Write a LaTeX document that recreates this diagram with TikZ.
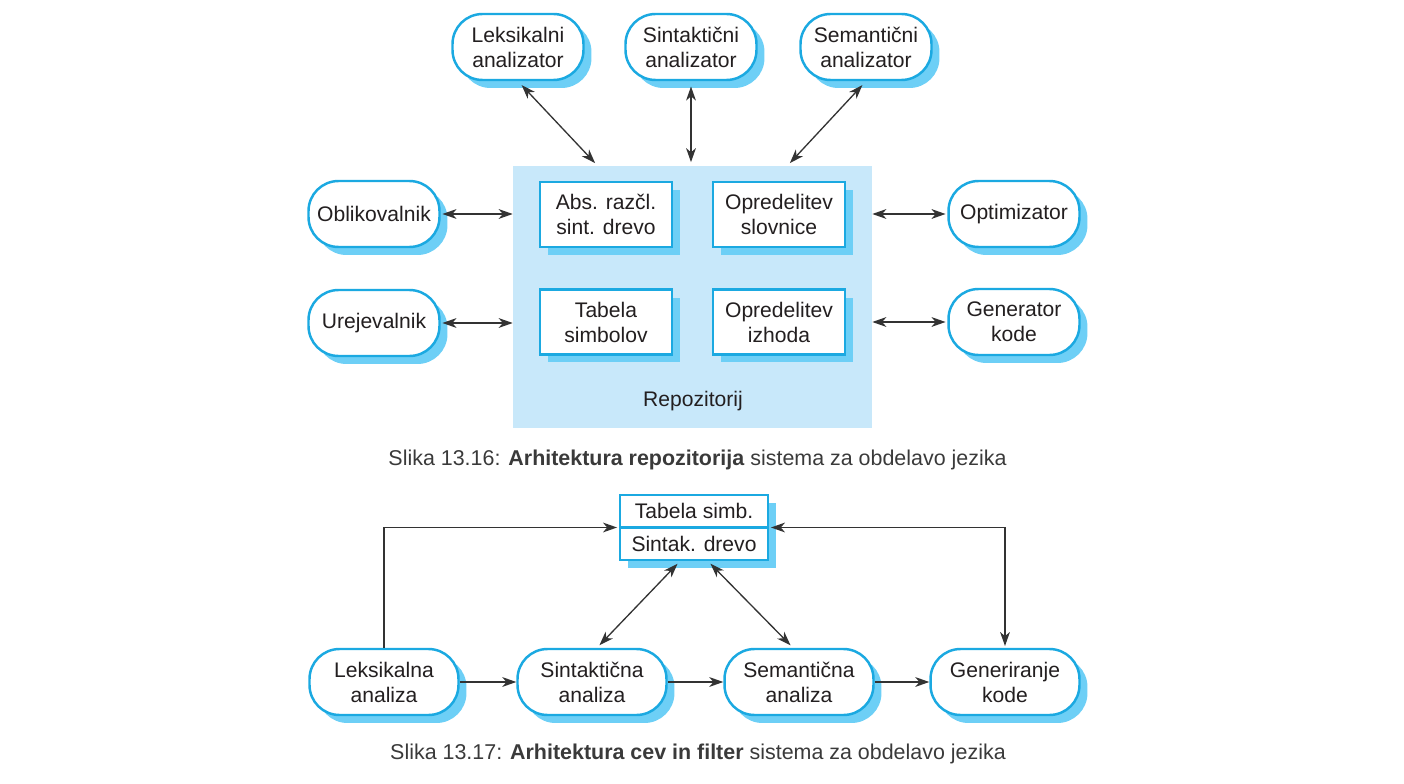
\documentclass[tikz,border=0pt]{standalone}
\usepackage{fontspec}
\setmainfont{Liberation Sans}
\usetikzlibrary{shadows,arrows.meta}
\definecolor{rimblue}{HTML}{1BA9E1}
\definecolor{shadeblue}{HTML}{6DCFF6}
\definecolor{repofill}{HTML}{C8E8FA}
\definecolor{linegray}{HTML}{333333}
\definecolor{textblack}{HTML}{231F20}
\definecolor{capgray}{HTML}{3A3A3A}
\tikzset{
  blueshade/.style={drop shadow={shadow xshift=0.16cm, shadow yshift=-0.16cm, fill=shadeblue, opacity=1}},
  tool/.style={draw=rimblue, line width=1.4pt, fill=white, rounded corners=0.6cm,
    minimum width=2.62cm, minimum height=1.32cm, align=center, text=textblack,
    font=\fontsize{12}{14.2}\selectfont, blueshade},
  phase/.style={tool, minimum width=2.98cm},
  part/.style={draw=rimblue, line width=1.4pt, fill=white, minimum width=2.64cm,
    minimum height=1.3cm, align=center, text=textblack,
    font=\fontsize{12}{14.2}\selectfont, blueshade},
  caption/.style={text=capgray, font=\fontsize{12.2}{14}\selectfont},
  link/.style={draw=linegray, line width=0.75pt},
  tip/.tip={Stealth[length=8pt, width=5.6pt, inset=2.4pt]}
}
\begin{document}
\begin{tikzpicture}[x=0.02cm, y=-0.02cm, >=tip]
\useasboundingbox (0,0) rectangle (1404,784);

\node [fill=repofill, minimum width=7.18cm, minimum height=5.24cm] (repo) at (692.5,297) {};
\node [text=textblack, font=\fontsize{12}{14.2}\selectfont] (repolabel) at (693,401) {Repozitorij};

\node [tool] (leks) at (518,47) {Leksikalni\\analizator};
\node [tool] (sint) at (691,47) {Sintaktični\\analizator};
\node [tool] (sem) at (866,47) {Semantični\\analizator};
\node [tool] (obl) at (374,214) {Oblikovalnik};
\node [tool] (urej) at (374,323) {Urejevalnik};
\node [tool] (opt) at (1014,214) {Optimizator};
\node [tool] (gen) at (1014,322) {Generator\\kode};

\node [part] (ast) at (606,214.5) {Abs. razčl.\\sint. drevo};
\node [part] (slov) at (779,214.5) {Opredelitev\\slovnice};
\node [part] (tab) at (606,322) {Tabela\\simbolov};
\node [part] (izh) at (779,322) {Opredelitev\\izhoda};

\draw [link, <->, shorten <=3pt, shorten >=2pt] (leks.south) to ([xshift=-1.9cm]repo.north);
\draw [link, <->, shorten <=3pt, shorten >=2pt] (sint.south) to (sint.south |- repo.north);
\draw [link, <->, shorten <=3pt, shorten >=2pt] (sem.south) to ([xshift=1.9cm]repo.north);
\draw [link, <->, shorten <=1pt] (obl.east) to (obl.east -| repo.west);
\draw [link, <->, shorten <=1pt] (urej.east) to (urej.east -| repo.west);
\draw [link, <->, shorten >=1pt] (opt.west -| repo.east) to (opt.west);
\draw [link, <->, shorten >=1pt] (gen.west -| repo.east) to (gen.west);

\node [caption] (cap1) at (697.5,460) {Slika 13.16: \textbf{Arhitektura repozitorija} sistema za obdelavo jezika};

\node [part, minimum width=2.96cm, font=\fontsize{12}{19.3}\selectfont] (symtree) at (694,527.5) {Tabela simb.\\Sintak. drevo};
\draw [draw=rimblue, line width=1.4pt] (symtree.west) to (symtree.east);

\node [phase] (leksa) at (384,682) {Leksikalna\\analiza};
\node [phase] (sinta) at (592,682) {Sintaktična\\analiza};
\node [phase] (sema) at (799,682) {Semantična\\analiza};
\node [phase] (genk) at (1005,682) {Generiranje\\kode};

\draw [link, ->] (leksa) to (sinta);
\draw [link, ->] (sinta) to (sema);
\draw [link, ->] (sema) to (genk);
\draw [link, ->, shorten >=1pt] (leksa.north) |- (symtree.west);
\draw [link, <->, shorten <=1pt, shorten >=1pt] (symtree.east) -| (genk.north);
\draw [link, <->, shorten <=2pt, shorten >=2pt] ([xshift=-0.28cm]symtree.south) to ([xshift=0.1cm]sinta.north);
\draw [link, <->, shorten <=2pt, shorten >=2pt] ([xshift=0.28cm]symtree.south) to ([xshift=-0.12cm]sema.north);

\node [caption] (cap2) at (698,754) {Slika 13.17: \textbf{Arhitektura cev in filter} sistema za obdelavo jezika};

\end{tikzpicture}
\end{document}
